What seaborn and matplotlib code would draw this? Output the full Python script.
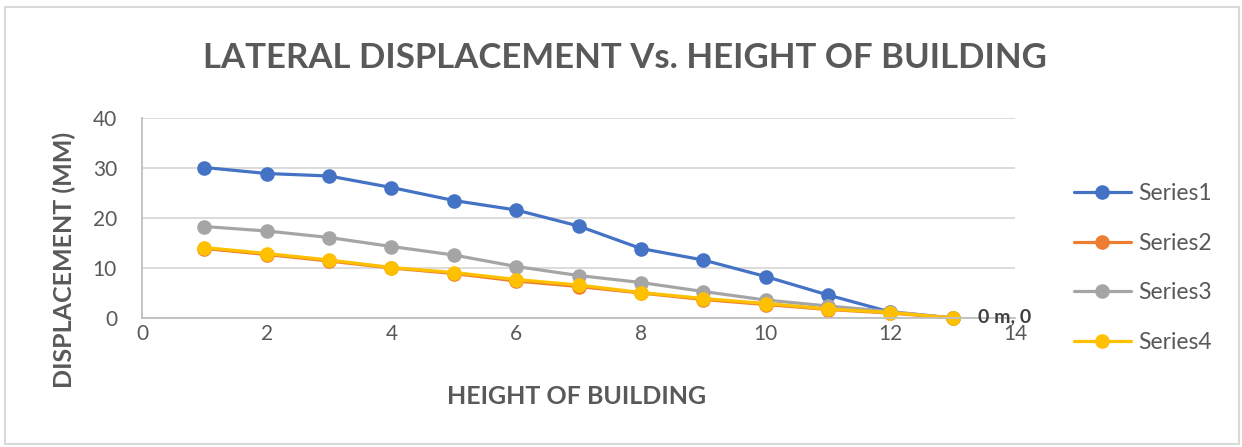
import matplotlib
matplotlib.use("Agg")
import matplotlib.pyplot as plt
import seaborn as sns
import pandas as pd
from matplotlib.patches import Rectangle

# Storey index and lateral displacement (mm) for each series
height = [1, 2, 3, 4, 5, 6, 7, 8, 9, 10, 11, 12, 13]
series1 = [30.1, 28.9, 28.4, 26.1, 23.5, 21.6, 18.4, 13.9, 11.6, 8.3, 4.6, 1.2, 0]
series2 = [13.9, 12.7, 11.4, 10.0, 8.9, 7.4, 6.3, 5.0, 3.7, 2.7, 1.7, 1.0, 0]
series3 = [18.3, 17.4, 16.1, 14.3, 12.6, 10.3, 8.5, 7.1, 5.3, 3.6, 2.4, 1.3, 0]
series4 = [14.1, 12.9, 11.6, 10.1, 9.1, 7.7, 6.6, 5.1, 3.9, 2.9, 1.8, 1.1, 0]
series_names = ["Series1", "Series2", "Series3", "Series4"]
colors = ["#4472C4", "#ED7D31", "#A5A5A5", "#FFC000"]
x_ticks = [0, 2, 4, 6, 8, 10, 12, 14]
y_ticks = [0, 10, 20, 30, 40]
end_label = "0 m, 0"

sns.set_theme(style="white")
plt.rcParams["font.family"] = ["Lato", "DejaVu Sans"]

text_color = "#595959"
grid_color = "#D9D9D9"

fig = plt.figure(figsize=(12.42, 4.47), dpi=100)
ax = fig.add_axes([142 / 1242, 1 - 318 / 447, (1015 - 142) / 1242, 200 / 447])

df = pd.DataFrame({"height": height * 4,
                   "disp": series1 + series2 + series3 + series4,
                   "series": sum([[n] * len(height) for n in series_names], [])})

for name, col in zip(series_names, colors):
    sub = df[df["series"] == name]
    sns.lineplot(data=sub, x="height", y="disp", ax=ax, color=col, linewidth=2.3,
                 marker="o", markersize=10.5, markeredgewidth=0, label=name,
                 clip_on=False)

ax.set_xlim(0, 14)
ax.set_ylim(0, 40)
ax.set_xticks(x_ticks)
ax.set_yticks(y_ticks)
ax.yaxis.grid(True, color=grid_color, linewidth=1.3)
ax.xaxis.grid(False)
ax.set_axisbelow(True)
for side in ["top", "right"]:
    ax.spines[side].set_visible(False)
for side in ["left", "bottom"]:
    ax.spines[side].set_color("#BFBFBF")
    ax.spines[side].set_linewidth(1.3)
ax.tick_params(axis="both", length=0, labelsize=15, labelcolor=text_color)
ax.tick_params(axis="y", pad=18)
ax.tick_params(axis="x", pad=4)
ax.set_xlabel("")
ax.set_ylabel("")

# Data label on the last point
ax.annotate(end_label, xy=(height[-1], series4[-1]), xytext=(18, 1),
            textcoords="offset points", ha="left", va="center",
            fontsize=14, fontweight="bold", color="#404040")

fig.text(625 / 1242, 1 - 58 / 447, "LATERAL DISPLACEMENT Vs. HEIGHT OF BUILDING",
         ha="center", va="center", fontsize=25, fontweight="bold", color=text_color)
fig.text(577 / 1242, 1 - 397 / 447, "HEIGHT OF BUILDING",
         ha="center", va="center", fontsize=18, fontweight="bold", color=text_color)
fig.text(64 / 1242, 1 - 260 / 447, "DISPLACEMENT (MM)", rotation=90,
         ha="center", va="center", fontsize=18, fontweight="bold", color=text_color)

handles, labels = ax.get_legend_handles_labels()
leg = ax.legend(handles, labels, loc="center left",
                bbox_to_anchor=(1053 / 1242, 1 - 268 / 447),
                bbox_transform=fig.transFigure, frameon=False, fontsize=16.5,
                labelspacing=1.25, handlelength=2.5, handletextpad=0.3,
                labelcolor=text_color)

# Outer chart border
fig.patches.append(Rectangle((5 / 1242, 3 / 447), 1234 / 1242, 437 / 447,
                             transform=fig.transFigure, fill=False,
                             edgecolor="#D9D9D9", linewidth=1.5))

fig.savefig("out.png", dpi=100, facecolor="white")
